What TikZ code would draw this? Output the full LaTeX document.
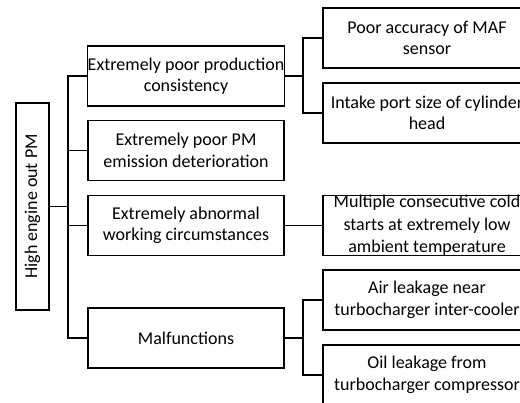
\documentclass[tikz,border=0pt]{standalone}
\usepackage{fontspec}
\setmainfont{Carlito}
\begin{document}
\begin{tikzpicture}[x=1pt,y=-1pt,
 box/.style={draw, line width=1.5pt, align=center, inner sep=0pt, font=\fontsize{18}{21.5}\selectfont},
 mid/.style={box, minimum width=196pt, minimum height=60pt},
 rgt/.style={box, minimum width=208pt, minimum height=60pt},
 conn/.style={line width=1.4pt}]
\useasboundingbox (0,0) rectangle (520,403);
\clip (0,0) rectangle (520,403);
\node[box, minimum width=207pt, minimum height=33pt, rotate=90] (root) at (32.5,206.5) {High engine out PM};
\node[mid] (m1) at (186,76) {Extremely poor production\\consistency};
\node[mid] (m2) at (186,150.5) {Extremely poor PM\\emission deterioration};
\node[mid] (m3) at (186,225.5) {Extremely abnormal\\working circumstances};
\node[mid] (m4) at (186,338) {Malfunctions};
\node[rgt] (r1) at (427,38) {Poor accuracy of MAF\\sensor};
\node[rgt] (r2) at (427,113) {Intake port size of cylinder\\head};
\node[rgt, font=\fontsize{18}{22.5}\selectfont] (r3) at (427,225.5) {Multiple consecutive cold\\starts at extremely low\\ambient temperature};
\node[rgt] (r4) at (427,300) {Air leakage near\\turbocharger inter-cooler};
\node[rgt] (r5) at (427,375) {Oil leakage from\\turbocharger compressor};
\coordinate (j0) at (68,206.5);
\coordinate (j1) at (303,76);
\coordinate (j2) at (303,338);
\draw[conn] (root.south) -- (j0);
\draw[conn] (m1.west) -| (j0) |- (m4.west);
\draw[conn] (m2.west) -- (m2.west -| j0);
\draw[conn] (m3.west) -- (m3.west -| j0);
\draw[conn] (m1.east) -- (j1);
\draw[conn] (r1.west) -| (j1) |- (r2.west);
\draw[conn] (m3.east) -- (r3.west);
\draw[conn] (m4.east) -- (j2);
\draw[conn] (r4.west) -| (j2) |- (r5.west);
\end{tikzpicture}
\end{document}
